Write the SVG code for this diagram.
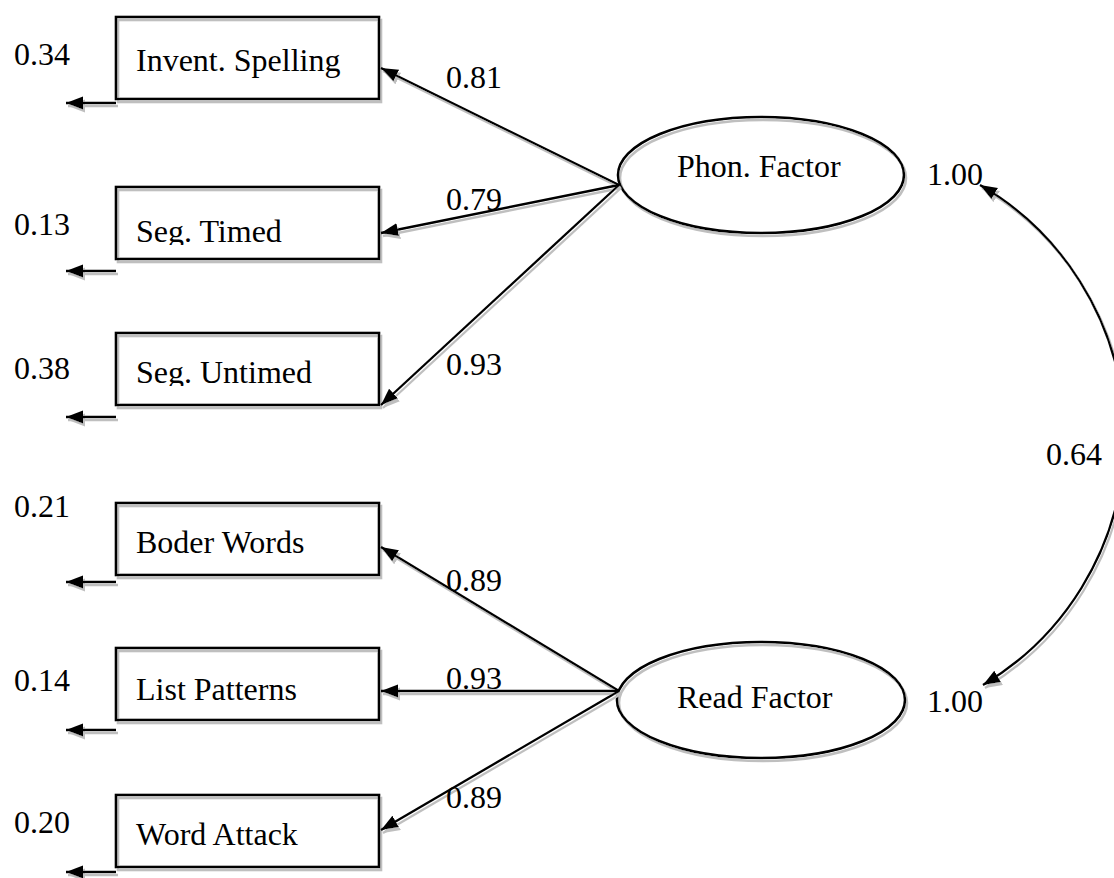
<svg xmlns="http://www.w3.org/2000/svg" width="1114" height="878" viewBox="0 0 1114 878">
<style>
.t{font-family:"Liberation Serif","Times New Roman",serif;font-size:32px;fill:#000}
.box{fill:none;stroke:#000;stroke-width:2.6}
.ln{fill:none;stroke:#000;stroke-width:2.3}
</style>
<defs>
<filter id="sh" filterUnits="userSpaceOnUse" x="0" y="0" width="1114" height="878">
<feOffset in="SourceAlpha" dx="2" dy="3" result="o"/>
<feFlood flood-color="#bfbfbf"/>
<feComposite in2="o" operator="in" result="s"/>
<feMerge><feMergeNode in="s"/><feMergeNode in="SourceGraphic"/></feMerge>
</filter>
<marker id="ah" markerUnits="userSpaceOnUse" markerWidth="18" markerHeight="14" refX="17" refY="6.5" orient="auto-start-reverse">
<path d="M0,0 L17,6.5 L0,13 z" fill="#000"/>
</marker>
<clipPath id="c2"><rect x="116" y="187" width="263" height="58"/></clipPath>
<clipPath id="c3"><rect x="116" y="333" width="263" height="53"/></clipPath>
</defs>
<rect width="1114" height="878" fill="#fff"/>

<g id="node-invent-spelling">
<rect class="box" x="116" y="17" width="263" height="82" filter="url(#sh)"/>
<text class="t" x="136" y="71">Invent. Spelling</text>
<text class="t" x="14" y="65">0.34</text>
</g>
<g id="node-seg-timed">
<rect class="box" x="116" y="187" width="263" height="72" filter="url(#sh)"/>
<text class="t" x="136" y="242" clip-path="url(#c2)">Seg. Timed</text>
<text class="t" x="14" y="235">0.13</text>
</g>
<g id="node-seg-untimed">
<rect class="box" x="116" y="333" width="263" height="72" filter="url(#sh)"/>
<text class="t" x="136" y="383" clip-path="url(#c3)">Seg. Untimed</text>
<text class="t" x="14" y="379">0.38</text>
</g>
<g id="node-boder-words">
<rect class="box" x="116" y="503" width="263" height="72" filter="url(#sh)"/>
<text class="t" x="136" y="553">Boder Words</text>
<text class="t" x="14" y="517">0.21</text>
</g>
<g id="node-list-patterns">
<rect class="box" x="116" y="648" width="263" height="72" filter="url(#sh)"/>
<text class="t" x="136" y="700">List Patterns</text>
<text class="t" x="14" y="691">0.14</text>
</g>
<g id="node-word-attack">
<rect class="box" x="116" y="795" width="263" height="72" filter="url(#sh)"/>
<text class="t" x="136" y="845">Word Attack</text>
<text class="t" x="14" y="833">0.20</text>
</g>
<g id="node-phon-factor">
<ellipse class="box" cx="761" cy="175" rx="143" ry="58" filter="url(#sh)"/>
<text class="t" x="677" y="177">Phon. Factor</text>
</g>
<g id="node-read-factor">
<ellipse class="box" cx="761" cy="700" rx="144" ry="58" filter="url(#sh)"/>
<text class="t" x="677" y="708">Read Factor</text>
</g>

<g id="connectors" filter="url(#sh)">
<line class="ln" x1="116" y1="103" x2="66" y2="103" marker-end="url(#ah)"/>
<line class="ln" x1="116" y1="271" x2="66" y2="271" marker-end="url(#ah)"/>
<line class="ln" x1="116" y1="417" x2="66" y2="417" marker-end="url(#ah)"/>
<line class="ln" x1="116" y1="582" x2="66" y2="582" marker-end="url(#ah)"/>
<line class="ln" x1="116" y1="730" x2="66" y2="730" marker-end="url(#ah)"/>
<line class="ln" x1="116" y1="872" x2="66" y2="872" marker-end="url(#ah)"/>
<line class="ln" x1="619" y1="185" x2="381" y2="68" marker-end="url(#ah)"/>
<line class="ln" x1="619" y1="185" x2="381" y2="233" marker-end="url(#ah)"/>
<line class="ln" x1="619" y1="185" x2="381" y2="405" marker-end="url(#ah)"/>
<line class="ln" x1="619" y1="691" x2="381" y2="547" marker-end="url(#ah)"/>
<line class="ln" x1="619" y1="691" x2="381" y2="691" marker-end="url(#ah)"/>
<line class="ln" x1="619" y1="691" x2="381" y2="830" marker-end="url(#ah)"/>
<path class="ln" d="M980,185 A290,290 0 0 1 983,685" marker-start="url(#ah)" marker-end="url(#ah)"/>
</g>

<g id="connector-labels">
<text class="t" x="446" y="88">0.81</text>
<text class="t" x="446" y="210">0.79</text>
<text class="t" x="446" y="375">0.93</text>
<text class="t" x="446" y="591">0.89</text>
<text class="t" x="446" y="689">0.93</text>
<text class="t" x="446" y="808">0.89</text>
<text class="t" x="927" y="185">1.00</text>
<text class="t" x="927" y="712">1.00</text>
<text class="t" x="1046" y="465">0.64</text>
</g>
</svg>
